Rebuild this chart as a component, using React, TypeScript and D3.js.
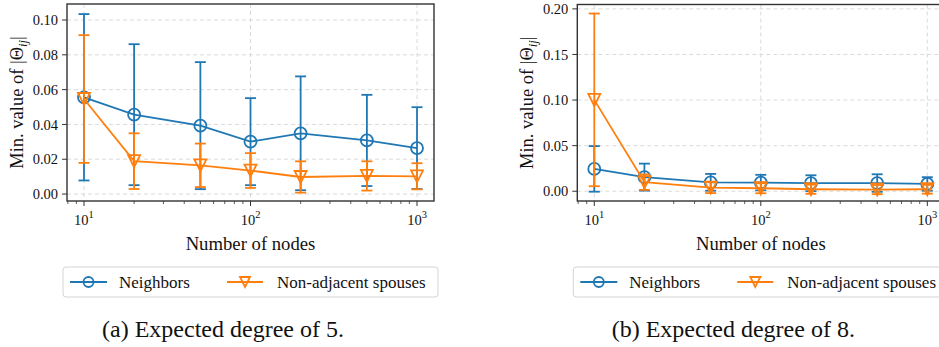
import React, { useRef, useEffect } from "react";
import * as d3 from "d3";

// number of nodes (x axis, log scale)
const nodes = [10, 20, 50, 100, 200, 500, 1000];

// (a) expected degree 5
const neighborsA = [0.0556, 0.0456, 0.0393, 0.0301, 0.0349, 0.0308, 0.0264];
const neighborsStdA = [0.0478, 0.0405, 0.0365, 0.025, 0.0327, 0.0262, 0.0235];
const spousesA = [0.0546, 0.0189, 0.0165, 0.0135, 0.0098, 0.0104, 0.0102];
const spousesStdA = [0.0367, 0.016, 0.0125, 0.01, 0.009, 0.0084, 0.0075];

// (b) expected degree 8
const neighborsB = [0.0245, 0.0155, 0.0098, 0.0095, 0.0088, 0.009, 0.008];
const neighborsStdB = [0.025, 0.0148, 0.0092, 0.0085, 0.0087, 0.0096, 0.0074];
const spousesB = [0.1002, 0.01, 0.004, 0.0033, 0.0022, 0.0018, 0.0022];
const spousesStdB = [0.0947, 0.0085, 0.006, 0.0055, 0.005, 0.005, 0.0048];

const yTicksA = [0, 0.02, 0.04, 0.06, 0.08, 0.1];
const yTicksB = [0, 0.05, 0.1, 0.15, 0.2];
const xMajor = [10, 100, 1000];
const xMinor = [8, 9, 20, 30, 40, 50, 60, 70, 80, 90, 200, 300, 400, 500, 600, 700, 800, 900];

const seriesNames = ["Neighbors", "Non-adjacent spouses"];
const captions = ["(a) Expected degree of 5.", "(b) Expected degree of 8."];

const BLUE = "#1f77b4";
const ORANGE = "#ff7f0e";
const FONT = '"Liberation Serif", "Times New Roman", serif';

type Series = { mean: number[]; std: number[]; color: string; marker: "circle" | "tri" };

const TRI = (s: number) => `M${-s},${-s}L${s},${-s}L0,${s}Z`;

function drawPanel(
  root: d3.Selection<SVGGElement, unknown, null, undefined>,
  dx: number,
  top: number,
  yDomain: [number, number],
  yTicks: number[],
  yFmt: (v: number) => string,
  series: Series[],
  caption: string
) {
  const g = root.append("g").attr("transform", `translate(${dx},0)`);
  const left = 67, right = 434, bottom = 201;

  const x = d3.scaleLog().domain([Math.pow(10, 0.898), Math.pow(10, 3.102)]).range([left, right]);
  const y = d3.scaleLinear().domain(yDomain).range([bottom, top]);

  // grid
  g.selectAll(".gx").data(xMajor).enter().append("line")
    .attr("x1", d => x(d)).attr("x2", d => x(d))
    .attr("y1", top).attr("y2", bottom)
    .attr("stroke", "#d0d0d0").attr("stroke-width", 0.8).attr("stroke-dasharray", "4,3");
  g.selectAll(".gy").data(yTicks).enter().append("line")
    .attr("x1", left).attr("x2", right)
    .attr("y1", d => y(d)).attr("y2", d => y(d))
    .attr("stroke", "#d0d0d0").attr("stroke-width", 0.8).attr("stroke-dasharray", "4,3");

  // series
  series.forEach(s => {
    const pts = nodes.map((n, i) => ({ n, m: s.mean[i], e: s.std[i] }));
    const line = d3.line<{ n: number; m: number }>().x(d => x(d.n)).y(d => y(d.m));
    g.append("path").datum(pts).attr("d", line)
      .attr("fill", "none").attr("stroke", s.color).attr("stroke-width", 1.8);

    const eb = g.append("g").attr("stroke", s.color).attr("stroke-width", 1.8);
    pts.forEach(p => {
      const cx = x(p.n);
      eb.append("line").attr("x1", cx).attr("x2", cx).attr("y1", y(p.m - p.e)).attr("y2", y(p.m + p.e));
      [p.m - p.e, p.m + p.e].forEach(v => {
        eb.append("line").attr("x1", cx - 5.5).attr("x2", cx + 5.5).attr("y1", y(v)).attr("y2", y(v));
      });
    });

    pts.forEach(p => {
      if (s.marker === "circle") {
        g.append("circle").attr("cx", x(p.n)).attr("cy", y(p.m)).attr("r", 6)
          .attr("fill", "none").attr("stroke", s.color).attr("stroke-width", 1.8);
      } else {
        g.append("path").attr("d", TRI(6)).attr("transform", `translate(${x(p.n)},${y(p.m)})`)
          .attr("fill", "none").attr("stroke", s.color).attr("stroke-width", 1.8);
      }
    });
  });

  // frame
  g.append("rect").attr("x", left).attr("y", top).attr("width", right - left).attr("height", bottom - top)
    .attr("fill", "none").attr("stroke", "#333").attr("stroke-width", 1.4);

  // y ticks
  yTicks.forEach(v => {
    g.append("line").attr("x1", left - 5).attr("x2", left).attr("y1", y(v)).attr("y2", y(v))
      .attr("stroke", "#333").attr("stroke-width", 1);
    g.append("text").attr("x", left - 9).attr("y", y(v)).attr("dy", "0.35em")
      .attr("text-anchor", "end").attr("font-size", 14.5).style("font-family", FONT).attr("fill", "#111")
      .text(yFmt(v));
  });

  // x ticks
  xMinor.forEach(v => {
    g.append("line").attr("x1", x(v)).attr("x2", x(v)).attr("y1", bottom).attr("y2", bottom + 3)
      .attr("stroke", "#333").attr("stroke-width", 0.8);
  });
  xMajor.forEach(v => {
    g.append("line").attr("x1", x(v)).attr("x2", x(v)).attr("y1", bottom).attr("y2", bottom + 5)
      .attr("stroke", "#333").attr("stroke-width", 1);
    const t = g.append("text").attr("x", x(v)).attr("y", 225)
      .attr("text-anchor", "middle").attr("font-size", 14.5).style("font-family", FONT).attr("fill", "#111");
    t.append("tspan").text("10");
    t.append("tspan").attr("dy", -7).attr("font-size", 10.5).text(String(Math.round(Math.log10(v))));
  });

  // axis labels
  g.append("text").attr("x", (left + right) / 2).attr("y", 250).attr("text-anchor", "middle")
    .attr("font-size", 18.7).style("font-family", FONT).attr("fill", "#111").text("Number of nodes");

  const yl = g.append("text").attr("transform", `translate(23,${(top + bottom) / 2}) rotate(-90)`)
    .attr("text-anchor", "middle").attr("font-size", 18.5).style("font-family", FONT).attr("fill", "#111");
  yl.append("tspan").text("Min. value of |Θ");
  yl.append("tspan").attr("font-style", "italic").attr("font-size", 12.5).attr("dy", 4).text("ij");
  yl.append("tspan").attr("dy", -4).text("|");

  // legend
  const lg = g.append("g");
  lg.append("rect").attr("x", 63).attr("y", 267).attr("width", 375).attr("height", 30).attr("rx", 3)
    .attr("fill", "#fff").attr("stroke", "#d4d4d4").attr("stroke-width", 1);
  const items = [
    { x0: 70, x1: 107, tx: 119, s: series[0], name: seriesNames[0] },
    { x0: 227, x1: 263, tx: 277, s: series[1], name: seriesNames[1] },
  ];
  items.forEach(it => {
    const cy = 282;
    lg.append("line").attr("x1", it.x0).attr("x2", it.x1).attr("y1", cy).attr("y2", cy)
      .attr("stroke", it.s.color).attr("stroke-width", 1.8);
    const mx = (it.x0 + it.x1) / 2;
    if (it.s.marker === "circle") {
      lg.append("circle").attr("cx", mx).attr("cy", cy).attr("r", 5)
        .attr("fill", "none").attr("stroke", it.s.color).attr("stroke-width", 1.8);
    } else {
      lg.append("path").attr("d", TRI(5)).attr("transform", `translate(${mx},${cy})`)
        .attr("fill", "none").attr("stroke", it.s.color).attr("stroke-width", 1.8);
    }
    lg.append("text").attr("x", it.tx).attr("y", cy).attr("dy", "0.35em")
      .attr("font-size", 17).style("font-family", FONT).attr("fill", "#111").text(it.name);
  });

  // caption
  g.append("text").attr("x", 223).attr("y", 337).attr("text-anchor", "middle")
    .attr("font-size", 24).style("font-family", FONT).attr("fill", "#111").text(caption);
}

export default function App() {
  const ref = useRef<SVGSVGElement>(null);

  useEffect(() => {
    const svg = d3.select(ref.current);
    svg.selectAll("*").remove();
    const root = svg.append("g") as d3.Selection<SVGGElement, unknown, null, undefined>;

    drawPanel(root, 0, 4, [-0.004, 0.1092], yTicksA, d3.format(".2f"), [
      { mean: neighborsA, std: neighborsStdA, color: BLUE, marker: "circle" },
      { mean: spousesA, std: spousesStdA, color: ORANGE, marker: "tri" },
    ], captions[0]);

    drawPanel(root, 510.3, 4.5, [-0.0107, 0.2048], yTicksB, d3.format(".2f"), [
      { mean: neighborsB, std: neighborsStdB, color: BLUE, marker: "circle" },
      { mean: spousesB, std: spousesStdB, color: ORANGE, marker: "tri" },
    ], captions[1]);
  }, []);

  return (
    <svg ref={ref} width={939} height={347}
      style={{ position: "absolute", left: 0, top: 0, background: "#fff", fontFamily: FONT }} />
  );
}
